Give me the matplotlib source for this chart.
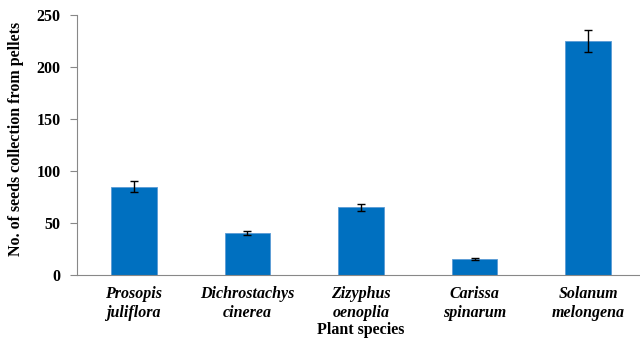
import numpy as np
import matplotlib.pyplot as plt

species = ["Prosopis\njuliflora", "Dichrostachys\ncinerea", "Zizyphus\noenoplia",
           "Carissa\nspinarum", "Solanum\nmelongena"]
seeds = [85, 40, 65, 15, 225]
errors = [5, 2, 3.5, 1, 11]

plt.rcParams["font.family"] = "Liberation Serif"
plt.rcParams["font.weight"] = "bold"

fig = plt.figure(figsize=(6.4, 3.4), dpi=100)
ax = fig.add_axes([77 / 640, 65 / 340, 568 / 640, 260 / 340])

x = np.arange(len(species))
ax.bar(x, seeds, width=0.4, color="#0070C0", edgecolor="#5B9BD5", linewidth=0.6,
       yerr=errors, error_kw=dict(ecolor="black", elinewidth=1, capsize=3, capthick=1))

ax.set_xlim(-0.5, 4.5)
ax.set_ylim(0, 250)
ax.set_yticks(np.arange(0, 251, 50))
ax.set_xticks(x)
ax.set_xticklabels(species, fontstyle="italic", fontweight="bold", fontsize=11.5)
ax.tick_params(axis="x", length=0, pad=8)
ax.tick_params(axis="y", length=5, color="#888888", labelsize=11.5, pad=7)

for side in ["top", "right"]:
    ax.spines[side].set_visible(False)
for side in ["left", "bottom"]:
    ax.spines[side].set_color("#888888")

ax.set_ylabel("No. of seeds collection from pellets", fontsize=11.5, fontweight="bold")
ax.yaxis.set_label_coords(-0.094, 0.525)
ax.set_xlabel("Plant species", fontsize=11.5, fontweight="bold", labelpad=1)

fig.savefig("out.png", dpi=100)
